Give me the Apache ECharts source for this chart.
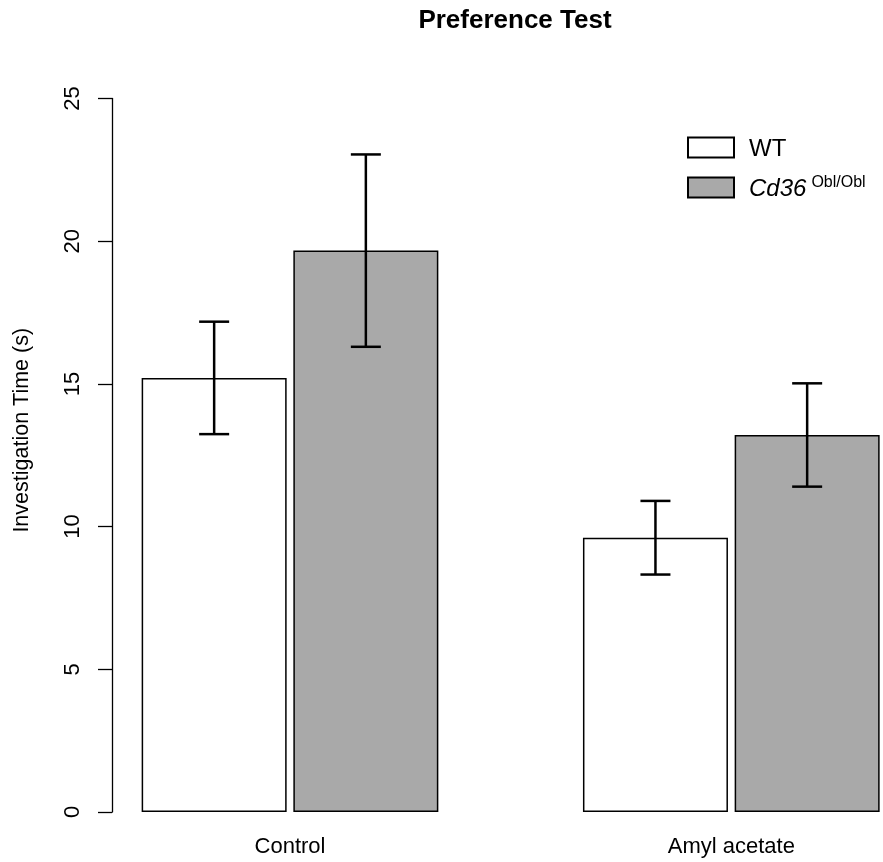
<!DOCTYPE html>
<html>
<head>
<meta charset="utf-8">
<script src="https://cdn.jsdelivr.net/npm/echarts@6/dist/echarts.min.js"></script>
<style>
  html, body { margin: 0; padding: 0; background: #fff; }
  #chart { width: 883px; height: 862px; }
</style>
</head>
<body>
<div id="chart"></div>
<script>
  // data
  const categories = ['Control', 'Amyl acetate']
  const seriesNames = ['WT', 'Cd36 Obl/Obl']
  const wtMean = [15.21, 9.61]
  const wtSem = [1.97, 1.29]
  const cdMean = [19.67, 13.21]
  const cdSem = [3.37, 1.81]
  const yTicks = [0, 5, 10, 15, 20, 25]

  const FONT = 'Liberation Sans, Arial, Helvetica, sans-serif'
  const BAR_W = 145
  const BAR_GAP = 6.7

  const chart = echarts.init(document.getElementById('chart'), null, { renderer: 'canvas' })

  // error bar rows: [category index, low, high, which bar (0 = WT, 1 = Cd36)]
  const errRows = []
  categories.forEach((c, i) => {
    errRows.push([i, wtMean[i] - wtSem[i], wtMean[i] + wtSem[i], 0])
    errRows.push([i, cdMean[i] - cdSem[i], cdMean[i] + cdSem[i], 1])
  })

  function renderErr(params, api) {
    const shift = (api.value(3) === 0 ? -1 : 1) * (BAR_W + BAR_GAP) / 2
    const lo = api.coord([api.value(0), api.value(1)])
    const hi = api.coord([api.value(0), api.value(2)])
    const x = lo[0] + shift
    const cap = 15
    const style = { stroke: '#000', lineWidth: 2.5 }
    return {
      type: 'group',
      children: [
        { type: 'line', shape: { x1: x, y1: lo[1], x2: x, y2: hi[1] }, style },
        { type: 'line', shape: { x1: x - cap, y1: lo[1], x2: x + cap, y2: lo[1] }, style },
        { type: 'line', shape: { x1: x - cap, y1: hi[1], x2: x + cap, y2: hi[1] }, style }
      ]
    }
  }

  const option = {
    backgroundColor: '#fff',
    animation: false,
    title: {
      text: 'Preference Test',
      left: 510,
      textAlign: 'center',
      top: 3,
      textStyle: { fontFamily: FONT, fontSize: 26, fontWeight: 'bold', color: '#000' }
    },
    legend: {
      data: seriesNames,
      orient: 'vertical',
      left: 687,
      top: 134,
      padding: 0,
      itemWidth: 46,
      itemHeight: 20,
      itemGap: 13,
      icon: 'rect',
      selectedMode: false,
      formatter: name => name === 'WT' ? '{n|WT}' : '{i|Cd36}{s|Obl/Obl}',
      textStyle: {
        color: '#000',
        padding: [0, 0, 0, 10],
        rich: {
          n: { fontFamily: FONT, fontSize: 24, color: '#000', lineHeight: 25, padding: [3, 0, 0, 0] },
          i: { fontFamily: FONT, fontSize: 24, fontStyle: 'italic', color: '#000', lineHeight: 25, padding: [3, 0, 0, 0] },
          s: { fontFamily: FONT, fontSize: 16, color: '#000', verticalAlign: 'top', lineHeight: 15, padding: [0, 0, 0, 5] }
        }
      }
    },
    // the category band spans past the canvas so the two groups land where R put them
    grid: { left: 69.35, top: 98.5, width: 882.6, height: 713.5, containLabel: false, outerBoundsMode: 'none' },
    xAxis: {
      type: 'category',
      data: categories,
      axisLine: { show: false },
      axisTick: { show: false },
      axisLabel: { fontFamily: FONT, fontSize: 22, color: '#000', margin: 24 }
    },
    yAxis: {
      type: 'value',
      min: yTicks[0],
      max: yTicks[yTicks.length - 1],
      interval: 5,
      offset: -42.65,
      name: 'Investigation Time (s)',
      nameLocation: 'middle',
      nameRotate: 90,
      nameGap: 79,
      nameTextStyle: { fontFamily: FONT, fontSize: 21.5, color: '#000', padding: [0, 0, 0, 50] },
      axisLine: { show: true, lineStyle: { color: '#000', width: 1.3 } },
      axisTick: { show: true, length: 14, lineStyle: { color: '#000', width: 1.3 } },
      axisLabel: { fontFamily: FONT, fontSize: 22, color: '#000', rotate: 90, margin: 28 },
      splitLine: { show: false }
    },
    series: [
      {
        name: seriesNames[0],
        type: 'bar',
        data: wtMean,
        barWidth: BAR_W,
        barGap: (BAR_GAP / BAR_W * 100) + '%',
        itemStyle: { color: '#fff', borderColor: '#000', borderWidth: 1.5 }
      },
      {
        name: seriesNames[1],
        type: 'bar',
        data: cdMean,
        barWidth: BAR_W,
        itemStyle: { color: '#a9a9a9', borderColor: '#000', borderWidth: 1.5 }
      },
      {
        type: 'custom',
        data: errRows,
        renderItem: renderErr,
        z: 10
      }
    ]
  }
  chart.setOption(option)
</script>
</body>
</html>
